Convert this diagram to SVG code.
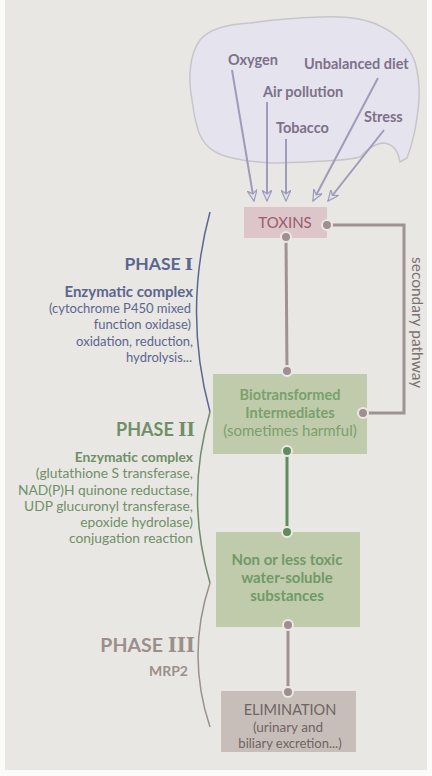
<svg xmlns="http://www.w3.org/2000/svg" width="432" height="776" viewBox="0 0 432 776">
<style>
text{font-family:Lato,"Open Sans","Liberation Sans",sans-serif}
.src{font-size:14.5px;font-weight:bold;fill:#7d7189}
.arr{stroke:#9d9cba;stroke-width:2;fill:none;marker-end:url(#ah)}
.conn{stroke:#9e9294;stroke-width:3;fill:none}
.dot{fill:#9e8f93;stroke:#ece9e4;stroke-width:2}
.gdot{fill:#5f8c5c;stroke:#ece9e4;stroke-width:2}
.p1{fill:#5b6690;font-size:13px;text-anchor:end}
.p2{fill:#6f8f69;font-size:13.8px;text-anchor:end}
.ph{font-size:17px;font-weight:bold;text-anchor:end}
.rn{font-family:"DejaVu Serif","Liberation Serif",serif}
.gtx{fill:#79a06d;font-size:14.5px;text-anchor:middle}
.ntx{fill:#6f9a67;font-size:15px;font-weight:bold;text-anchor:middle}
.etx{fill:#6f6462;text-anchor:middle}
</style>
<defs>
<marker id="ah" viewBox="0 0 12 10" refX="11" refY="5" markerWidth="12" markerHeight="10" markerUnits="userSpaceOnUse" orient="auto">
<path d="M0,0 L11,5 L0,10 L4,5 Z" fill="#e3e2ee" stroke="#9d9cba" stroke-width="1.2"/>
</marker>
</defs>
<rect width="432" height="776" fill="#fbfbf9"/>
<rect x="5" y="0" width="422" height="770" fill="#e9e7e3"/>

<g id="cloud">
<path d="M192,100 C188,80 189,55 200,40 C210,28 230,24 250,23 C270,20 290,18 320,17 C345,16 365,18 380,26 C398,34 410,48 415,62 C420,80 420,95 418,110 C416,125 414,140 407,158 L400,162 C398,150 392,143 382,143 C372,145 366,150 360,157 C350,160 340,160 325,161 C305,162 290,163 270,163 C255,162 240,161 225,156 C212,152 203,145 198,130 C195,120 193,110 192,100 Z" fill="#e5e3ee" stroke="#c8c5ca" stroke-width="1.5"/>
<text class="src" x="228" y="65">Oxygen</text>
<text class="src" x="304" y="69">Unbalanced diet</text>
<text class="src" x="263" y="97">Air pollution</text>
<text class="src" x="276" y="133">Tobacco</text>
<text class="src" x="364" y="122">Stress</text>
</g>

<g id="source-arrows">
<line class="arr" x1="232" y1="70" x2="254" y2="201"/>
<line class="arr" x1="267" y1="102" x2="267" y2="201"/>
<line class="arr" x1="286" y1="139" x2="286" y2="201"/>
<line class="arr" x1="378" y1="78" x2="313" y2="201"/>
<line class="arr" x1="384" y1="130" x2="328" y2="201"/>
</g>

<g id="toxins">
<rect x="244" y="207" width="83" height="31" fill="#dcc6c9"/>
<text x="285" y="228" font-size="15" fill="#9b5b6b" text-anchor="middle">TOXINS</text>
</g>

<g id="biotransformed">
<rect x="213" y="374" width="154" height="80" fill="#c0cbab"/>
<text class="gtx" x="290" y="400" font-weight="bold">Biotransformed</text>
<text class="gtx" x="290" y="418" font-weight="bold">Intermediates</text>
<text class="gtx" x="290" y="436" style="font-size:15px">(sometimes harmful)</text>
</g>

<g id="nontoxic">
<rect x="216" y="532" width="144" height="95" fill="#c0cbab"/>
<text class="ntx" x="287" y="565">Non or less toxic</text>
<text class="ntx" x="287" y="583">water-soluble</text>
<text class="ntx" x="287" y="601">substances</text>
</g>

<g id="elimination">
<rect x="221" y="691" width="135" height="61" fill="#c7beb9"/>
<text class="etx" x="290" y="715" font-size="14.5">ELIMINATION</text>
<text class="etx" x="288" y="732" font-size="13.5">(urinary and</text>
<text class="etx" x="290" y="748" font-size="13">biliary excretion...)</text>
</g>

<g id="connectors">
<line class="conn" x1="286" y1="237" x2="287" y2="371"/>
<polyline class="conn" points="327,225 404,225 404,413 363,413"/>
<line stroke="#5f8c5c" stroke-width="3" x1="287" y1="451" x2="287" y2="532"/>
<line class="conn" x1="288" y1="625" x2="288" y2="692"/>
<circle class="dot" cx="286" cy="237" r="5"/>
<circle class="dot" cx="327" cy="225" r="5"/>
<circle class="dot" cx="287" cy="371" r="5"/>
<circle class="dot" cx="363" cy="413" r="5"/>
<circle class="gdot" cx="287" cy="451" r="5"/>
<circle class="gdot" cx="287" cy="532" r="5"/>
<circle class="dot" cx="288" cy="625" r="5"/>
<circle class="dot" cx="288" cy="692" r="5"/>
<text x="412" y="257" font-size="15.5" fill="#7b7173" transform="rotate(90 412 257)">secondary pathway</text>
</g>

<g id="phase1">
<path d="M210,212 Q183,312 210,412" fill="none" stroke="#5b6690" stroke-width="1.5"/>
<text class="p1 ph" x="193" y="270" style="font-size:17.5px">PHASE <tspan class="rn">I</tspan></text>
<text class="p1" x="193" y="297" font-weight="bold" style="font-size:15px">Enzymatic complex</text>
<text class="p1" x="191" y="313">(cytochrome P450 mixed</text>
<text class="p1" x="191" y="329">function oxidase)</text>
<text class="p1" x="193" y="346">oxidation, reduction,</text>
<text class="p1" x="192" y="362">hydrolysis...</text>
</g>

<g id="phase2">
<path d="M210,412 Q185,497 210,583" fill="none" stroke="#6f8a6d" stroke-width="1.5"/>
<text class="p2 ph" x="195" y="436" style="font-size:18px">PHASE <tspan class="rn">II</tspan></text>
<text class="p2" x="193" y="462" font-weight="bold">Enzymatic complex</text>
<text class="p2" x="193" y="478">(glutathione S transferase,</text>
<text class="p2" x="193" y="495">NAD(P)H quinone reductase,</text>
<text class="p2" x="193" y="511">UDP glucuronyl transferase,</text>
<text class="p2" x="193" y="527">epoxide hydrolase)</text>
<text class="p2" x="193" y="543">conjugation reaction</text>
</g>

<g id="phase3">
<path d="M210,583 Q186,655 210,727" fill="none" stroke="#9b908b" stroke-width="1.5"/>
<text class="ph" x="195" y="652" fill="#9b8f8a" style="font-size:19.5px">PHASE <tspan class="rn">III</tspan></text>
<text x="188" y="676" font-size="14" font-weight="bold" fill="#9b8f8a" text-anchor="end">MRP2</text>
</g>
</svg>
